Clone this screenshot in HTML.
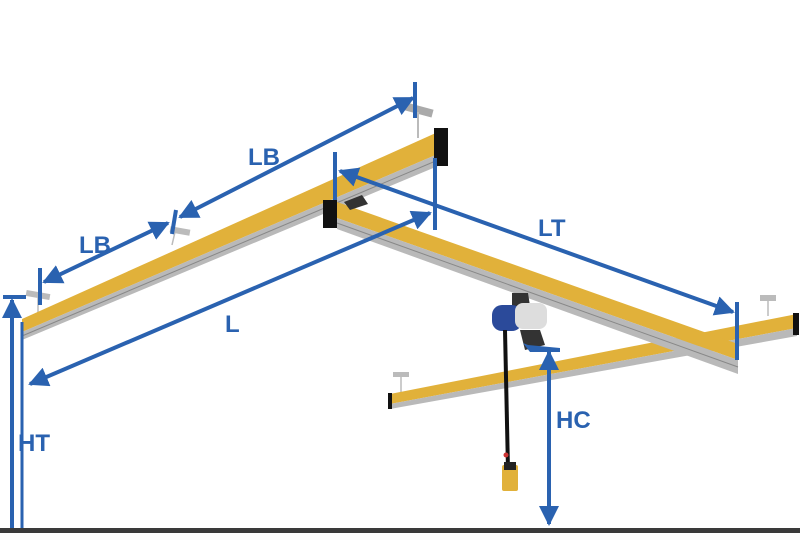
<!DOCTYPE html>
<html><head><style>
html,body{margin:0;padding:0;background:#fff;}
svg{display:block;}
text{font-family:"Liberation Sans",sans-serif;font-weight:bold;fill:#2a62b0;}
</style></head><body>
<svg width="800" height="533" viewBox="0 0 800 533" xmlns="http://www.w3.org/2000/svg">
<defs>
<marker id="a" viewBox="0 0 10 10" refX="9" refY="5" markerWidth="5" markerHeight="5" orient="auto-start-reverse" markerUnits="strokeWidth">
<path d="M0,0 L10,5 L0,10 z" fill="#2a62b0"/></marker>
</defs>
<!-- hangers -->
<rect x="405" y="106" width="28" height="8" fill="#aaa" transform="rotate(15 419 110)"/>
<line x1="418" y1="112" x2="418" y2="138" stroke="#bbb" stroke-width="2"/>
<rect x="170" y="228" width="20" height="6" fill="#bbb" transform="rotate(10 180 231)"/>
<line x1="175" y1="232" x2="172" y2="245" stroke="#bbb" stroke-width="1.5"/>
<rect x="26" y="292" width="24" height="6" fill="#bbb" transform="rotate(10 38 295)"/>
<line x1="38" y1="297" x2="38" y2="315" stroke="#bbb" stroke-width="1.5"/>
<rect x="393" y="372" width="16" height="5" fill="#bbb"/>
<line x1="401" y1="376" x2="401" y2="392" stroke="#bbb" stroke-width="1.5"/>
<rect x="760" y="295" width="16" height="6" fill="#bbb"/>
<line x1="768" y1="300" x2="768" y2="316" stroke="#bbb" stroke-width="1.5"/>
<!-- left runway -->
<polygon points="22,319 438,132 438,154 22,332" fill="#e1b13a"/>
<polygon points="22,332 438,154 438,166 22,340" fill="#b9b9b9"/>
<line x1="22" y1="336" x2="438" y2="160" stroke="#888" stroke-width="1"/>
<rect x="434" y="128" width="14" height="38" fill="#111"/>
<!-- front runway -->
<polygon points="390,394 797,314 797,328 390,404" fill="#e1b13a"/>
<polygon points="390,404 797,328 797,336 390,409" fill="#b9b9b9"/>
<rect x="388" y="393" width="4" height="16" fill="#111"/>
<rect x="793" y="313" width="6" height="22" fill="#111"/>
<!-- bridge -->
<polygon points="337,202 738,344 738,360 337,218" fill="#e1b13a"/>
<polygon points="337,218 738,360 738,374 337,229" fill="#b9b9b9"/>
<line x1="337" y1="223" x2="738" y2="367" stroke="#888" stroke-width="1"/>
<rect x="323" y="200" width="14" height="28" fill="#111"/>
<path d="M344,202 L362,195 L368,204 L350,210 z" fill="#333"/>
<!-- hoist -->
<path d="M512,293 L528,293 L530,306 L512,306 z" fill="#333"/>
<rect x="492" y="305" width="30" height="26" rx="10" fill="#2b4a9a"/>
<rect x="515" y="303" width="32" height="26" rx="8" fill="#ddd"/>
<path d="M520,330 L540,330 L545,345 L525,350 z" fill="#333"/>
<path d="M523,343 L530,352 L560,352 L560,348 L528,345 z" fill="#2a62b0"/>
<line x1="505" y1="330" x2="508" y2="470" stroke="#111" stroke-width="4"/>
<rect x="502" y="465" width="16" height="26" rx="2" fill="#e1b13a"/>
<rect x="504" y="462" width="12" height="8" fill="#222"/>
<circle cx="506" cy="455" r="2.5" fill="#c33"/>
<!-- dimensions -->
<g stroke="#2a62b0" stroke-width="4" fill="none">
<line x1="180" y1="217" x2="413" y2="98" marker-start="url(#a)" marker-end="url(#a)"/>
<line x1="415" y1="82" x2="415" y2="118"/>
<line x1="176" y1="210" x2="172" y2="234"/>
<line x1="44" y1="282" x2="168" y2="223" marker-start="url(#a)" marker-end="url(#a)"/>
<line x1="40" y1="268" x2="40" y2="305"/>
<line x1="30" y1="384" x2="430" y2="213" marker-start="url(#a)" marker-end="url(#a)"/>
<line x1="435" y1="158" x2="435" y2="230"/>
<line x1="340" y1="171" x2="733" y2="312" marker-start="url(#a)" marker-end="url(#a)"/>
<line x1="335" y1="152" x2="335" y2="200"/>
<line x1="737" y1="302" x2="737" y2="360"/>
<line x1="12" y1="300" x2="12" y2="533" marker-start="url(#a)"/>
<line x1="3" y1="297" x2="26" y2="297"/>
<line x1="22" y1="322" x2="22" y2="528" stroke-width="3"/>
<line x1="549" y1="352" x2="549" y2="524" marker-start="url(#a)" marker-end="url(#a)"/>
</g>
<text x="248" y="165" font-size="24">LB</text>
<text x="79" y="253" font-size="24">LB</text>
<text x="225" y="332" font-size="24">L</text>
<text x="538" y="236" font-size="24">LT</text>
<text x="18" y="451" font-size="24">HT</text>
<text x="556" y="428" font-size="24">HC</text>
<rect x="0" y="528" width="800" height="5" fill="#3a3a3a"/>
</svg>
</body></html>
